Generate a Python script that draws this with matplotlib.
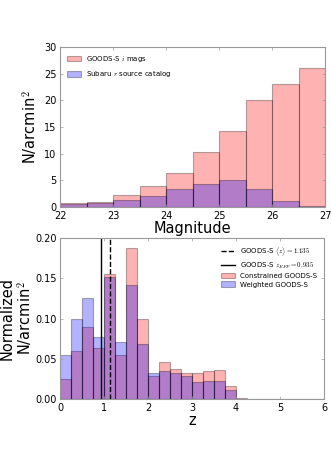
import matplotlib
matplotlib.use("Agg")
import matplotlib.pyplot as plt
import numpy as np

plt.rcParams['mathtext.fontset'] = 'cm'
plt.rcParams['font.family'] = ['DejaVu Sans']

# Top panel: magnitude histogram
mag_edges = [22.0, 22.5, 23.0, 23.5, 24.0, 24.5, 25.0, 25.5, 26.0, 26.5, 27.0]
goods_i = [0.8, 1.0, 2.2, 3.9, 6.3, 10.3, 14.3, 20.1, 23.0, 26.0]
subaru_r = [0.6, 0.8, 1.25, 2.06, 3.3, 4.4, 5.0, 3.3, 1.1, 0.12]

# Bottom panel: redshift histogram
z_edges = [i * 0.25 for i in range(25)]
constrained = [0.025, 0.060, 0.090, 0.063, 0.155, 0.055, 0.187, 0.099,
               0.029, 0.046, 0.037, 0.032, 0.032, 0.035, 0.036, 0.0167,
               0.001, 0, 0, 0, 0, 0, 0, 0]
weighted = [0.055, 0.100, 0.126, 0.0775, 0.151, 0.071, 0.142, 0.068,
            0.0325, 0.035, 0.0325, 0.028, 0.0217, 0.0225, 0.0225, 0.011,
            0, 0, 0, 0, 0, 0, 0, 0]
z_mean = 1.135
z_eff = 0.935

fig = plt.figure(figsize=(3.32, 4.70), dpi=100)
ax1 = fig.add_axes([0.181, 0.5596, 0.798, 0.3404])
ax2 = fig.add_axes([0.181, 0.151, 0.795, 0.3426])

spine_c = '#999999'

def style(ax):
    for s in ax.spines.values():
        s.set_color(spine_c)
        s.set_linewidth(0.8)
    ax.tick_params(direction='in', length=2.5, width=0.5, color=spine_c,
                   labelsize=7, top=True, right=True, pad=1.5)
    ax.tick_params(axis='x', pad=3)
    ax.tick_params(axis='y', pad=2.5)

mc = np.array(mag_edges[:-1])
ax1.hist(mc, bins=mag_edges, weights=goods_i, color='red', alpha=0.3,
         edgecolor='black', linewidth=0.8, label='GOODS-S $i$ mags')
ax1.hist(mc, bins=mag_edges, weights=subaru_r, color='blue', alpha=0.3,
         edgecolor='black', linewidth=0.8, label='Subaru $r$ source catalog')
ax1.set_xlim(22, 27)
ax1.set_ylim(0, 30)
ax1.set_xticks([22, 23, 24, 25, 26, 27])
ax1.set_yticks([0, 5, 10, 15, 20, 25, 30])
ax1.set_xlabel('Magnitude', fontsize=10.5, labelpad=0)
ax1.set_ylabel('N/arcmin$^2$', fontsize=10.5, labelpad=4)
style(ax1)
ax1.legend(loc='upper left', frameon=False, fontsize=5, handlelength=2.0,
           handleheight=0.9, labelspacing=0.75, borderaxespad=0.6)

zc = np.array(z_edges[:-1])
ax2.hist(zc, bins=z_edges, weights=constrained, color='red', alpha=0.3,
         edgecolor='black', linewidth=0.8, label='Constrained GOODS-S')
ax2.hist(zc, bins=z_edges, weights=weighted, color='blue', alpha=0.3,
         edgecolor='black', linewidth=0.8, label='Weighted GOODS-S')
ax2.axvline(z_mean, color='black', linestyle='--', linewidth=1.0,
            label=r'GOODS-S $\langle z\rangle=1.135$')
ax2.axvline(z_eff, color='black', linestyle='-', linewidth=1.0,
            label=r'GOODS-S $z_{EFF}=0.935$')
ax2.set_xlim(0, 6)
ax2.set_ylim(0, 0.20)
ax2.set_xticks([0, 1, 2, 3, 4, 5, 6])
ax2.set_yticks([0.0, 0.05, 0.10, 0.15, 0.20])
ax2.set_yticklabels(['0.00', '0.05', '0.10', '0.15', '0.20'])
ax2.set_xlabel('z', fontsize=10.5, labelpad=0)
ax2.set_ylabel('Normalized\nN/arcmin$^2$', fontsize=10.5, labelpad=1,
               linespacing=1.0)
style(ax2)
h, l = ax2.get_legend_handles_labels()
order = [l.index(r'GOODS-S $\langle z\rangle=1.135$'),
         l.index(r'GOODS-S $z_{EFF}=0.935$'),
         l.index('Constrained GOODS-S'), l.index('Weighted GOODS-S')]
ax2.legend([h[i] for i in order], [l[i] for i in order], loc='upper right',
           frameon=False, fontsize=5, handlelength=2.0, handleheight=0.8,
           labelspacing=0.35, borderaxespad=0.6)

fig.savefig('out.png', dpi=100)
